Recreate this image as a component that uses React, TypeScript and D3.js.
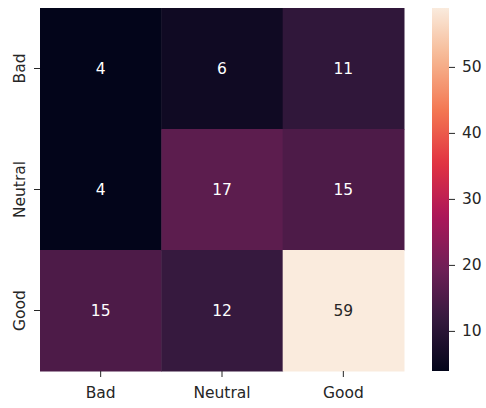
import React from "react";
import * as d3 from "d3";

// Confusion-matrix counts (rows = actual, columns = predicted)
const rowLabels = ["Bad", "Neutral", "Good"];
const colLabels = ["Bad", "Neutral", "Good"];
const values: number[][] = [
  [4, 6, 11],
  [4, 17, 15],
  [15, 12, 59],
];
const colorbarTicks = [10, 20, 30, 40, 50];

// "rocket" colormap anchor colours
const rocketStops = [
  "#03051a",
  "#35193e",
  "#701f57",
  "#ad1759",
  "#e13342",
  "#f37651",
  "#f6b48f",
  "#faebdd",
];
const rocketPos = [0, 1 / 7, 2 / 7, 3 / 7, 4 / 7, 5 / 7, 6 / 7, 1];
const rocket = d3
  .scaleLinear<string>()
  .domain(rocketPos)
  .range(rocketStops)
  .interpolate(d3.interpolateRgb)
  .clamp(true);

const W = 486;
const H = 408;
const plot = { left: 40, top: 8, right: 404, bottom: 371 };
const cbar = { left: 432, right: 449 };
const FONT = "'DejaVu Sans', sans-serif";
const FS = 15.5;
const TEXT = "#262626";

export default function App() {
  const flat = values.flat();
  const vmin = d3.min(flat)!;
  const vmax = d3.max(flat)!;
  const norm = d3.scaleLinear().domain([vmin, vmax]).range([0, 1]);

  const x = d3.scaleBand<string>().domain(colLabels).range([plot.left, plot.right]);
  const y = d3.scaleBand<string>().domain(rowLabels).range([plot.top, plot.bottom]);
  const cy = d3.scaleLinear().domain([vmin, vmax]).range([plot.bottom, plot.top]);

  const gradStops = d3.range(0, 1.0001, 0.02);

  return (
    <svg
      width={W}
      height={H}
      style={{ position: "absolute", left: 0, top: 0, background: "#fff" }}
      fontFamily={FONT}
    >
      <defs>
        <linearGradient id="cbarGrad" x1="0" y1="1" x2="0" y2="0">
          {gradStops.map((t) => (
            <stop key={t} offset={t} stopColor={rocket(t)} />
          ))}
        </linearGradient>
      </defs>

      {/* cells */}
      {values.map((row, i) =>
        row.map((v, j) => {
          const t = norm(v);
          const fill = rocket(t);
          const light = d3.hsl(fill).l > 0.5;
          const cx = x(colLabels[j])! + x.bandwidth() / 2;
          const cyy = y(rowLabels[i])! + y.bandwidth() / 2;
          return (
            <g key={`${i}-${j}`}>
              <rect
                x={x(colLabels[j])!}
                y={y(rowLabels[i])!}
                width={x.bandwidth() + 0.5}
                height={y.bandwidth() + 0.5}
                fill={fill}
              />
              <text
                x={cx}
                y={cyy}
                textAnchor="middle"
                dominantBaseline="central"
                fontSize={FS}
                fill={light ? TEXT : "#ffffff"}
              >
                {v}
              </text>
            </g>
          );
        })
      )}

      {/* x axis */}
      {colLabels.map((c) => {
        const cx = x(c)! + x.bandwidth() / 2;
        return (
          <g key={`x-${c}`}>
            <line x1={cx} x2={cx} y1={plot.bottom} y2={plot.bottom + 6} stroke={TEXT} strokeWidth={1} />
            <text x={cx} y={plot.bottom + 27} textAnchor="middle" fontSize={FS} fill={TEXT}>
              {c}
            </text>
          </g>
        );
      })}

      {/* y axis */}
      {rowLabels.map((r) => {
        const cyy = y(r)! + y.bandwidth() / 2;
        return (
          <g key={`y-${r}`}>
            <line x1={plot.left - 6} x2={plot.left} y1={cyy} y2={cyy} stroke={TEXT} strokeWidth={1} />
            <text
              transform={`translate(${plot.left - 15},${cyy}) rotate(-90)`}
              textAnchor="middle"
              fontSize={FS}
              fill={TEXT}
            >
              {r}
            </text>
          </g>
        );
      })}

      {/* colorbar */}
      <rect
        x={cbar.left}
        y={plot.top}
        width={cbar.right - cbar.left}
        height={plot.bottom - plot.top}
        fill="url(#cbarGrad)"
      />
      {colorbarTicks.map((t) => (
        <g key={`cb-${t}`}>
          <line x1={cbar.right} x2={cbar.right + 6} y1={cy(t)} y2={cy(t)} stroke={TEXT} strokeWidth={1} />
          <text
            x={cbar.right + 13}
            y={cy(t)}
            dominantBaseline="central"
            fontSize={FS}
            fill={TEXT}
          >
            {t}
          </text>
        </g>
      ))}
    </svg>
  );
}
